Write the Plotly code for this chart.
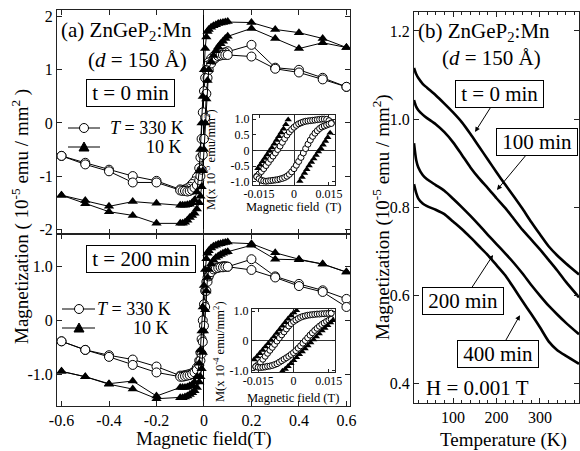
import plotly.graph_objects as go

FONT = "Liberation Serif, Times New Roman, Times, serif"
W, H = 580, 451

# ---------------- data: panel (a), M-H loops ----------------
H_down = [0.6, 0.5, 0.4, 0.3, 0.2, 0.1, 0.09, 0.08, 0.07, 0.06, 0.05, 0.04, 0.03, 0.02, 0.015, 0.01, 0.005, 0.0,
          -0.005, -0.01, -0.015, -0.02, -0.03, -0.04, -0.05, -0.06, -0.07, -0.08, -0.09, -0.1, -0.2, -0.3, -0.4, -0.5, -0.6]
H_up = [-0.6, -0.5, -0.4, -0.3, -0.2, -0.1, -0.09, -0.08, -0.07, -0.06, -0.05, -0.04, -0.03, -0.02, -0.015, -0.01, -0.005,
        0.0, 0.005, 0.01, 0.015, 0.02, 0.03, 0.04, 0.05, 0.06, 0.07, 0.08, 0.09, 0.1, 0.2, 0.3, 0.4, 0.5, 0.6]

# t = 0 min
M0_330_down = [0.68, 0.85, 1.00, 1.04, 1.47, 1.35, 1.33, 1.32, 1.31, 1.29, 1.27, 1.25, 1.21, 1.14, 1.08, 1.0, 0.85, 0.6,
               0.2, -0.3, -0.65, -0.85, -1.02, -1.1, -1.15, -1.2, -1.23, -1.25, -1.26, -1.25, -1.09, -1.00, -0.88, -0.75, -0.62]
M0_330_up = [-0.62, -0.78, -0.91, -1.12, -1.12, -1.27, -1.28, -1.28, -1.29, -1.28, -1.26, -1.22, -1.17, -1.08, -1.0, -0.88,
             -0.6, -0.3, 0.1, 0.55, 0.85, 1.0, 1.12, 1.19, 1.23, 1.26, 1.27, 1.28, 1.28, 1.28, 1.25, 1.02, 0.95, 0.82, 0.68]
M0_10_down = [1.42, 1.59, 1.70, 1.76, 1.89, 1.91, 1.9, 1.89, 1.88, 1.87, 1.85, 1.83, 1.8, 1.76, 1.72, 1.62, 1.4, 1.0,
              0.5, 0.0, -0.5, -0.9, -1.3, -1.45, -1.5, -1.53, -1.54, -1.55, -1.55, -1.55, -1.51, -1.48, -1.57, -1.46, -1.36]
M0_10_up = [-1.36, -1.52, -1.67, -1.74, -1.89, -1.89, -1.89, -1.87, -1.83, -1.78, -1.74, -1.7, -1.62, -1.5, -1.38, -1.2,
            -0.9, -0.5, 0.0, 0.45, 0.8, 1.0, 1.15, 1.27, 1.36, 1.43, 1.49, 1.54, 1.59, 1.63, 1.78, 1.59, 1.40, 1.51, 1.42]

# t = 200 min
M200_330_down = [0.40, 0.56, 0.68, 0.82, 1.14, 1.0, 1.01, 1.01, 1.0, 0.99, 0.97, 0.95, 0.91, 0.85, 0.8, 0.72, 0.55, 0.3,
                 0.0, -0.35, -0.6, -0.75, -0.88, -0.95, -0.98, -1.0, -1.01, -1.02, -1.03, -1.03, -0.86, -0.73, -0.65, -0.55, -0.39]
M200_330_up = [-0.39, -0.55, -0.68, -0.83, -0.97, -1.05, -1.05, -1.04, -1.03, -1.02, -1.0, -0.97, -0.92, -0.83, -0.75, -0.62,
               -0.4, -0.1, 0.25, 0.55, 0.72, 0.82, 0.9, 0.95, 0.97, 0.98, 0.99, 0.99, 1.0, 1.0, 0.94, 0.80, 0.64, 0.53, 0.25]
M200_10_down = [0.90, 1.05, 1.14, 1.26, 1.43, 1.46, 1.45, 1.44, 1.43, 1.42, 1.40, 1.38, 1.35, 1.3, 1.25, 1.15, 0.95, 0.65,
                0.25, -0.2, -0.55, -0.8, -1.05, -1.15, -1.2, -1.22, -1.24, -1.25, -1.25, -1.25, -1.41, -1.13, -1.18, -1.05, -0.95]
M200_10_up = [-0.95, -1.05, -1.19, -1.28, -1.46, -1.44, -1.44, -1.43, -1.41, -1.38, -1.35, -1.31, -1.25, -1.15, -1.05, -0.9,
              -0.6, -0.2, 0.2, 0.55, 0.8, 0.95, 1.05, 1.12, 1.17, 1.2, 1.23, 1.25, 1.27, 1.28, 1.40, 1.14, 1.13, 1.05, 0.90]

# ---------------- data: insets (low field loops) ----------------
H_in = [-0.016, -0.015, -0.014, -0.013, -0.012, -0.011, -0.010, -0.009, -0.008, -0.007, -0.006, -0.005, -0.004, -0.003,
        -0.002, -0.001, 0.0, 0.001, 0.002, 0.003, 0.004, 0.005, 0.006, 0.007, 0.008, 0.009, 0.010, 0.011, 0.012, 0.013,
        0.014, 0.015, 0.016]
in0_330_a = [-0.82, -0.75, -0.67, -0.58, -0.48, -0.38, -0.28, -0.18, -0.08, 0.03, 0.14, 0.26, 0.38, 0.49, 0.59, 0.67, 0.74,
             0.8, 0.85, 0.88, 0.91, 0.93, 0.94, 0.95, 0.96, 0.97, 0.98, 0.99, 1.0, 1.0, 0.99, 0.95, 0.88]
in0_330_b = [-0.84, -0.9, -0.95, -0.97, -0.98, -0.97, -0.96, -0.95, -0.94, -0.93, -0.91, -0.89, -0.86, -0.82, -0.76, -0.68,
             -0.58, -0.47, -0.35, -0.22, -0.08, 0.06, 0.2, 0.33, 0.45, 0.55, 0.63, 0.7, 0.75, 0.78, 0.81, 0.84, 0.86]
in0_10_H_left = [-0.0155, -0.0145, -0.0135, -0.0125, -0.0115, -0.0105, -0.0095, -0.0085, -0.0075, -0.0065, -0.0055,
                 -0.0045, -0.0035, -0.0025]
in0_10_M_left = [-0.57, -0.46, -0.35, -0.24, -0.13, -0.02, 0.09, 0.21, 0.33, 0.45, 0.57, 0.69, 0.83, 0.98]
in0_10_H_right = [0.0025, 0.0035, 0.0045, 0.0055, 0.0065, 0.0075, 0.0085, 0.0095, 0.0105, 0.0115, 0.0125, 0.0135,
                  0.0145, 0.0155]
in0_10_M_right = [-0.98, -0.85, -0.72, -0.6, -0.48, -0.37, -0.26, -0.15, -0.04, 0.07, 0.18, 0.3, 0.42, 0.56]

in200_330_a = [-0.87, -0.8, -0.72, -0.62, -0.52, -0.42, -0.32, -0.22, -0.12, -0.01, 0.1, 0.2, 0.3, 0.4, 0.5, 0.58, 0.65,
               0.7, 0.75, 0.79, 0.82, 0.84, 0.86, 0.87, 0.88, 0.89, 0.9, 0.9, 0.91, 0.91, 0.92, 0.92, 0.93]
in200_330_b = [-0.87, -0.89, -0.9, -0.89, -0.88, -0.86, -0.85, -0.83, -0.8, -0.77, -0.72, -0.67, -0.62, -0.57, -0.52,
               -0.46, -0.4, -0.33, -0.25, -0.17, -0.08, 0.01, 0.1, 0.19, 0.27, 0.35, 0.42, 0.49, 0.55, 0.6, 0.65, 0.69, 0.72]
in200_10_H_left = [-0.0167, -0.0155, -0.0143, -0.0131, -0.0119, -0.0107, -0.0095, -0.0083, -0.0071, -0.0059, -0.0047,
                   -0.0035, -0.0023, -0.0011, 0.0001, 0.0013]
in200_10_M_left = [-0.63, -0.53, -0.42, -0.31, -0.2, -0.09, 0.02, 0.14, 0.26, 0.38, 0.5, 0.62, 0.74, 0.85, 0.95, 1.02]
in200_10_H_right = [-0.0047, -0.0035, -0.0023, -0.0011, 0.0001, 0.0013, 0.0025, 0.0037, 0.0049, 0.0061, 0.0073, 0.0085,
                    0.0097, 0.0109, 0.0121, 0.0133, 0.0145, 0.0157, 0.0167]
in200_10_M_right = [-1.02, -0.95, -0.86, -0.76, -0.66, -0.56, -0.46, -0.36, -0.26, -0.16, -0.06, 0.04, 0.14, 0.24, 0.34,
                    0.43, 0.52, 0.61, 0.69]

# ---------------- data: panel (b), M-T at H = 0.001 T ----------------
T_b = [10, 15, 20, 30, 40, 60, 80, 100, 120, 140, 160, 180, 200, 220, 240, 260, 280, 300, 320, 340, 360, 390]
M_t0 = [1.116, 1.102, 1.093, 1.080, 1.071, 1.054, 1.035, 1.015, 0.993, 0.966, 0.937, 0.908, 0.879, 0.851, 0.824, 0.796,
        0.766, 0.738, 0.711, 0.690, 0.672, 0.647]
M_t100 = [1.043, 1.028, 1.020, 1.010, 1.002, 0.988, 0.970, 0.947, 0.919, 0.890, 0.865, 0.843, 0.820, 0.798, 0.773, 0.748,
          0.726, 0.704, 0.680, 0.656, 0.630, 0.595]
M_t200 = [0.945, 0.907, 0.890, 0.873, 0.863, 0.850, 0.837, 0.819, 0.800, 0.780, 0.759, 0.737, 0.716, 0.695, 0.673, 0.649,
          0.623, 0.599, 0.576, 0.556, 0.537, 0.511]
M_t400 = [0.852, 0.832, 0.819, 0.808, 0.802, 0.794, 0.784, 0.767, 0.750, 0.731, 0.711, 0.691, 0.668, 0.645, 0.616, 0.586,
          0.557, 0.527, 0.495, 0.475, 0.462, 0.444]

# ---------------- helpers ----------------
def X(p):
    return p / W


def Y(p):
    return 1 - p / H


fig = go.Figure()

circ = dict(symbol="circle", size=9, color="white", line=dict(color="black", width=1))
tri = dict(symbol="triangle-up", size=9, color="black", line=dict(color="black", width=0))
circ_s = dict(symbol="circle", size=6, color="white", line=dict(color="black", width=1))
tri_s = dict(symbol="triangle-up", size=6.5, color="black", line=dict(color="black", width=0))
ln = dict(color="black", width=1)


def loop(xs, ys, xa, ya, marker):
    fig.add_trace(go.Scatter(x=xs, y=ys, xaxis=xa, yaxis=ya, mode="lines+markers", line=ln, marker=marker,
                             showlegend=False, hoverinfo="skip"))


def pts(xs, ys, xa, ya, marker):
    fig.add_trace(go.Scatter(x=xs, y=ys, xaxis=xa, yaxis=ya, mode="markers", marker=marker,
                             showlegend=False, hoverinfo="skip"))


# upper panel (a)
loop(H_down, M0_330_down, "x", "y", circ)
loop(H_up, M0_330_up, "x", "y", circ)
loop(H_down, M0_10_down, "x", "y", tri)
loop(H_up, M0_10_up, "x", "y", tri)
# lower panel (a)
loop(H_down, M200_330_down, "x2", "y2", circ)
loop(H_up, M200_330_up, "x2", "y2", circ)
loop(H_down, M200_10_down, "x2", "y2", tri)
loop(H_up, M200_10_up, "x2", "y2", tri)
# panel (b)
for m in (M_t0, M_t100, M_t200, M_t400):
    fig.add_trace(go.Scatter(x=T_b, y=m, xaxis="x3", yaxis="y3", mode="lines",
                             line=dict(color="black", width=2.6, shape="spline", smoothing=0.6),
                             showlegend=False, hoverinfo="skip"))
# insets
pts(H_in, in0_330_a, "x4", "y4", circ_s)
pts(H_in, in0_330_b, "x4", "y4", circ_s)
pts(in0_10_H_left, in0_10_M_left, "x4", "y4", tri_s)
pts(in0_10_H_right, in0_10_M_right, "x4", "y4", tri_s)
pts(H_in, in200_330_a, "x5", "y5", circ_s)
pts(H_in, in200_330_b, "x5", "y5", circ_s)
pts(in200_10_H_left, in200_10_M_left, "x5", "y5", tri_s)
pts(in200_10_H_right, in200_10_M_right, "x5", "y5", tri_s)

AX = dict(showline=True, linecolor="#222", linewidth=1, mirror="ticks", ticks="inside", ticklen=5,
          tickcolor="#222", showgrid=False, zeroline=False, automargin=False,
          tickfont=dict(family=FONT, size=16, color="black"))
AXI = dict(AX, ticklen=3, tickfont=dict(family=FONT, size=12, color="black"),
           zeroline=True, zerolinecolor="#333", zerolinewidth=1)

hticks = [-0.6, -0.4, -0.2, 0, 0.2, 0.4, 0.6]
htext = ["-0.6", "-0.4", "-0.2", "0", "0.2", "0.4", "0.6"]

fig.update_layout(
    width=W, height=H, margin=dict(l=0, r=0, t=0, b=0, autoexpand=False),
    paper_bgcolor="white", plot_bgcolor="white", showlegend=False, hovermode=False,
    font=dict(family=FONT, color="black"),
    xaxis=dict(AX, domain=[X(57), X(350)], range=[-0.619, 0.615], anchor="y", tickvals=hticks,
               showticklabels=False, zeroline=True, zerolinecolor="black", zerolinewidth=1),
    yaxis=dict(AX, domain=[Y(234), Y(10)], range=[-2.09, 2.126], anchor="x",
               tickvals=[-2, -1, 0, 1, 2], ticktext=["-2", "-1", "0", "1", "2"]),
    xaxis2=dict(AX, domain=[X(57), X(350)], range=[-0.619, 0.615], anchor="y2", tickvals=hticks, ticktext=htext,
                zeroline=True, zerolinecolor="black", zerolinewidth=1),
    yaxis2=dict(AX, domain=[Y(405.7), Y(234)], range=[-1.59, 1.61], anchor="x2",
                tickvals=[-1, 0, 1], ticktext=["-1.0", "0", "1.0"]),
    xaxis3=dict(AX, domain=[X(414), X(579)], range=[10, 390], anchor="y3",
                tickvals=[100, 200, 300], ticktext=["100", "200", "300"],
                minor=dict(dtick=20, ticklen=3, ticks="inside", tickcolor="#222")),
    yaxis3=dict(AX, domain=[Y(403), Y(12)], range=[0.355, 1.243], anchor="x3",
                tickvals=[0.4, 0.6, 0.8, 1.0, 1.2], ticktext=["0.4", "0.6", "0.8", "1.0", "1.2"]),
    xaxis4=dict(AXI, domain=[X(253), X(335)], range=[-0.0176, 0.0176], anchor="y4",
                tickvals=[-0.015, 0, 0.015], ticktext=["-0.015", "0", "0.015"], ticklabelstandoff=-2),
    yaxis4=dict(AXI, domain=[Y(185), Y(115)], range=[-1.1, 1.13], anchor="x4",
                tickvals=[-1, -0.5, 0, 0.5, 1], ticktext=["-1.0", "-0.5", "0", "0.5", "1.0"]),
    xaxis5=dict(AXI, domain=[X(252), X(335)], range=[-0.0176, 0.0176], anchor="y5",
                tickvals=[-0.015, 0, 0.015], ticktext=["-0.015", "0", "0.015"], ticklabelstandoff=-2),
    yaxis5=dict(AXI, domain=[Y(372), Y(309)], range=[-1.05, 1.07], anchor="x5",
                tickvals=[-1, 0, 1], ticktext=["-1.0", "0", "1.0"]),
)

ann = []


def txt(s, x, y, size=21, xanchor="center", angle=0, box=False):
    d = dict(text=s, x=X(x), y=Y(y), xref="paper", yref="paper", showarrow=False, xanchor=xanchor,
             yanchor="middle", textangle=angle, font=dict(family=FONT, size=size, color="black"))
    if box:
        d.update(bordercolor="black", borderwidth=1, borderpad=1, bgcolor="white")
    ann.append(d)


# panel (a) texts
txt("(a) ZnGeP<sub>2</sub>:Mn", 59, 31, xanchor="left")
txt("(<i>d</i> = 150 Å)", 137, 60)
txt("\u2009t = 0 min\u2009", 130, 93, box=True)
txt("\u2009t = 200 min\u2009", 141, 259, box=True)
txt("<i>T</i> = 330 K", 108, 128, size=18, xanchor="left")
txt("10 K", 184, 147, size=18, xanchor="right")
txt("<i>T</i> = 330 K", 95, 309, size=18, xanchor="left")
txt("10 K", 171, 328, size=18, xanchor="right")
txt("Magnetization ( 10<sup>-5</sup> emu / mm<sup>2</sup> )", 20, 217, size=19, angle=-90)
txt("Magnetic field(T)", 204, 439, size=19)
# insets texts
txt("Magnetic field  (T)", 293, 207, size=12.5)
txt("M(x 10<sup>-5</sup> emu/mm<sup>2</sup>)", 210, 160, size=12.5, angle=-90)
txt("Magnetic field (T)", 293, 398, size=12.5)
txt("M(x 10<sup>-4</sup> emu/mm<sup>2</sup>)", 219, 352, size=12.5, angle=-90)
# panel (b) texts
txt("(b) ZnGeP<sub>2</sub>:Mn", 416, 32, xanchor="left")
txt("(<i>d</i> = 150 Å)", 491, 58)
txt("H = 0.001 T", 424, 388, xanchor="left")
txt("Magnetization (10<sup>-5</sup> emu / mm<sup>2</sup>)", 381, 217, size=19, angle=-90)
txt("Temperature (K)", 503, 440, size=19)


def arrow_box(s, tipT, tipM, ax, ay):
    ann.append(dict(text="\u2009" + s + "\u2009", x=tipT, y=tipM, xref="x3", yref="y3", showarrow=True, ax=ax, ay=ay,
                    arrowhead=2, arrowsize=1, arrowwidth=1, arrowcolor="black", standoff=0,
                    font=dict(family=FONT, size=21, color="black"),
                    bordercolor="black", borderwidth=1, borderpad=1, bgcolor="white"))


arrow_box("t = 0 min", 150.6, 0.9705, 24, -38)
arrow_box("100 min", 201, 0.8386, 40, -48)
arrow_box("200 min", 192, 0.691, -30, 46)
arrow_box("400 min", 254, 0.5545, -22, 39)

fig.update_layout(annotations=ann)

# legend glyphs (layout shapes in paper coordinates)
shapes = []


def leg_line(x0, x1, y):
    shapes.append(dict(type="line", xref="paper", yref="paper", x0=X(x0), x1=X(x1), y0=Y(y), y1=Y(y),
                       line=dict(color="black", width=1)))


def leg_circle(cx, cy, r=4.5):
    shapes.append(dict(type="circle", xref="paper", yref="paper", x0=X(cx - r), x1=X(cx + r), y0=Y(cy + r),
                       y1=Y(cy - r), fillcolor="white", line=dict(color="black", width=1)))


def leg_tri(cx, cy):
    path = "M {} {} L {} {} L {} {} Z".format(X(cx), Y(cy - 5), X(cx - 5), Y(cy + 4), X(cx + 5), Y(cy + 4))
    shapes.append(dict(type="path", xref="paper", yref="paper", path=path, fillcolor="black",
                       line=dict(color="black", width=1)))


leg_line(68, 100, 128); leg_circle(84, 128)
leg_line(68, 100, 147); leg_tri(84, 147)
leg_line(62, 95, 309); leg_circle(79, 309)
leg_line(62, 95, 328); leg_tri(79, 328)
fig.update_layout(shapes=shapes)

fig.write_html("out.html", config={"displayModeBar": False},
               post_script="document.body.style.margin='0px';document.body.style.padding='0px';")
